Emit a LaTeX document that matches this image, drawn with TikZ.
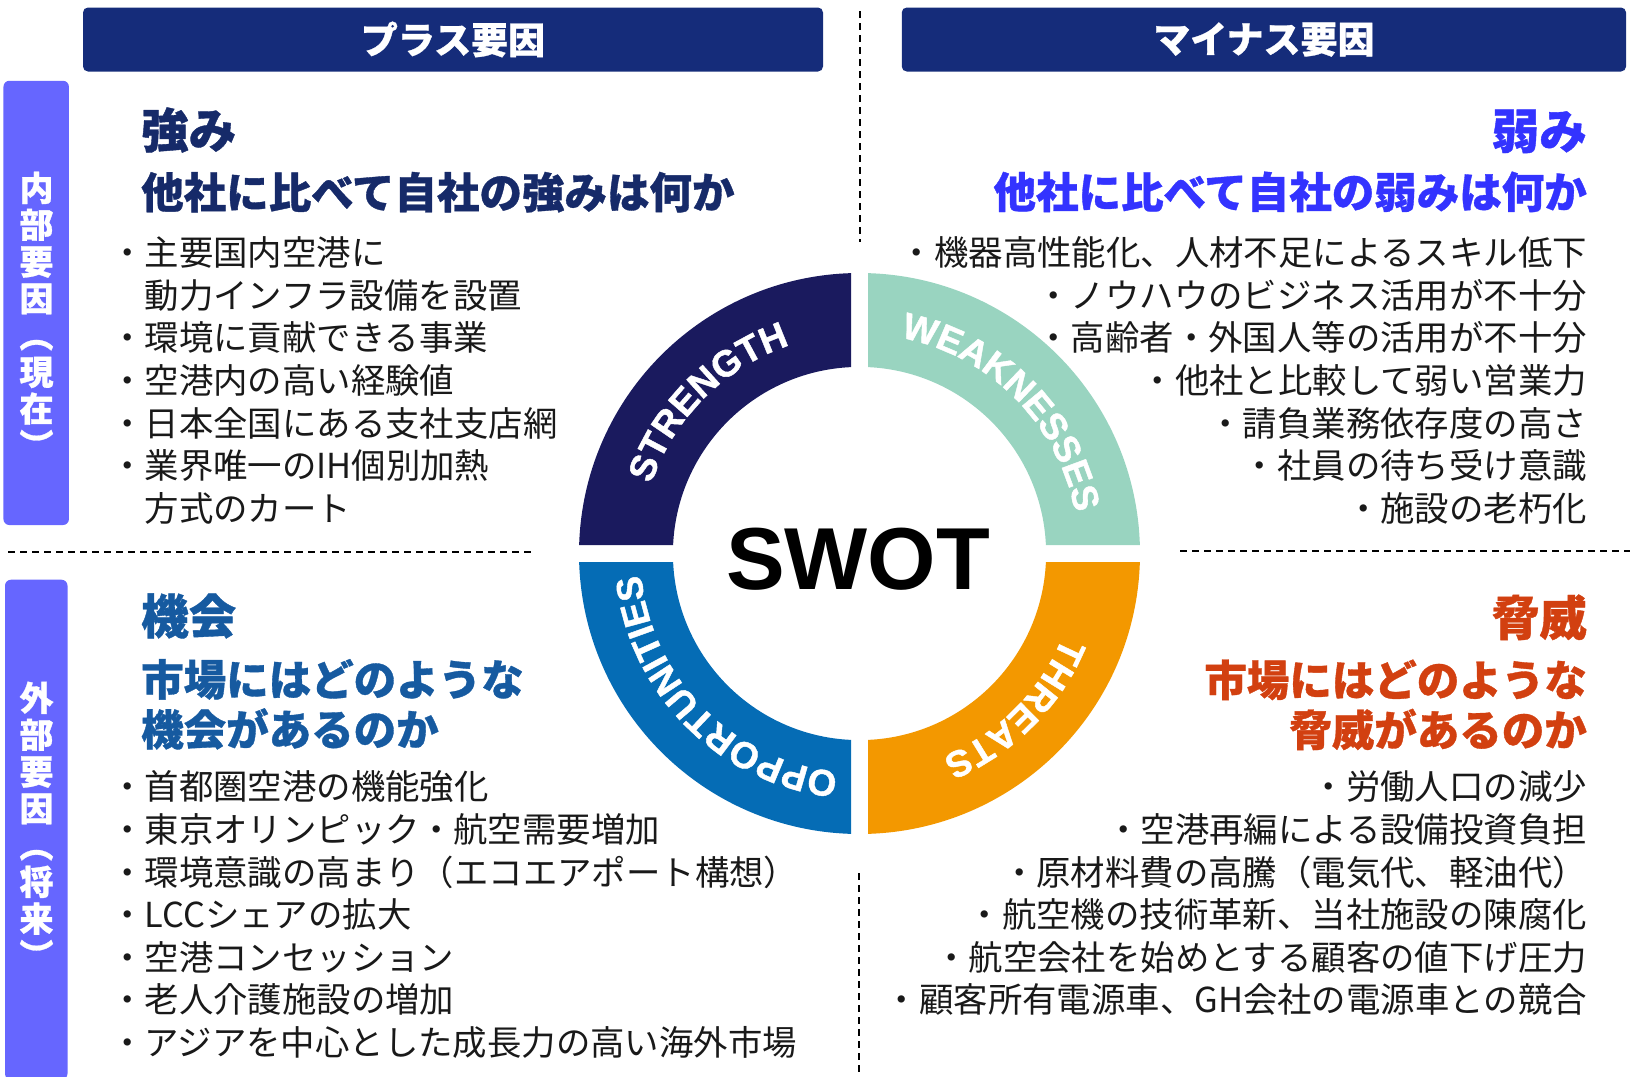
\documentclass[tikz,border=0pt]{standalone}
\usepackage{fontspec}
\newfontfamily\jp{Noto Sans CJK JP}
\newfontfamily\jph{Noto Sans CJK JP}[BoldFeatures={FakeBold=0.8}]
\newfontfamily\lat{Liberation Sans}
\newfontfamily\ringfont{Liberation Sans}[BoldFeatures={FakeBold=1.2}]
\usetikzlibrary{decorations.text,calc}
\definecolor{hdr}{RGB}{21,44,122}
\definecolor{side}{RGB}{102,102,255}
\definecolor{cS}{RGB}{26,26,94}
\definecolor{cW}{RGB}{153,212,192}
\definecolor{cO}{RGB}{5,108,181}
\definecolor{cT}{RGB}{243,152,0}
\definecolor{hS}{RGB}{22,42,105}
\definecolor{hW}{RGB}{51,51,255}
\definecolor{hO}{RGB}{22,90,160}
\definecolor{hT}{RGB}{210,64,16}
\definecolor{bodyc}{RGB}{25,25,25}
\begin{document}
\begin{tikzpicture}[x=1pt,y=1pt,
  hbox/.style={fill=hdr, rounded corners=5pt, inner sep=0, text=white,
    font=\jph\bfseries\fontsize{37}{37}\selectfont},
  sidebar/.style={fill=side, rounded corners=6pt, inner sep=0},
  vtext/.style={text=white, font=\jph\bfseries\fontsize{34}{36.8}\selectfont, align=center, inner sep=0},
  head/.style={font=\jph\bfseries\fontsize{42.5}{42.5}\selectfont, inner sep=0},
  title/.style={font=\jph\bfseries\fontsize{47.5}{47.5}\selectfont, inner sep=0},
  item/.style={font=\jp\fontsize{34.4}{34.4}\selectfont, text=bodyc, inner sep=0},
  sep/.style={dash pattern=on 7pt off 5pt, line width=2pt, black},
  ringlbl/.style={decorate, decoration={text along path, text align=center, text={|\ringfont\bfseries\fontsize{37}{37}\selectfont\color{white}|#1}}}
]
\useasboundingbox (0,0) rectangle (1630,-1076);

% header boxes
\node[hbox, minimum width=740, minimum height=64] (hplus) at (453,-39.5) {プラス要因};
\node[hbox, minimum width=724.3, minimum height=64] (hminus) at (1263.9,-39.5) {マイナス要因};

% side bars
\node[sidebar, minimum width=65.5, minimum height=444.3] (sbtop) at (36.2,-302.9) {};
\node[sidebar, minimum width=62.5, minimum height=500] (sbbot) at (36.25,-829.7) {};
\node[vtext] (vtop) at (36.5,-315) {内\\部\\要\\因\\︵\\現\\在\\︶};
\node[vtext] (vbot) at (36.5,-825) {外\\部\\要\\因\\︵\\将\\来\\︶};

% dashed separators
\coordinate (vA1) at (860,-11);
\coordinate (vA2) at (860,-242);
\coordinate (vB1) at (859,-873);
\coordinate (vB2) at (859,-1076);
\coordinate (hA1) at (8,-551.5);
\coordinate (hA2) at (533,-551.5);
\coordinate (hB1) at (1180,-550.5);
\coordinate (hB2) at (1630,-550.5);
\draw[sep] (vA1) -- (vA2);
\draw[sep] (vB1) -- (vB2);
\draw[sep] (hA1) -- (hA2);
\draw[sep] (hB1) -- (hB2);

% ring
\coordinate (C) at (859.5,-553.5);
\begin{scope}[shift={(C)}]
\fill[cS] (178.2634:280.5) arc[start angle=178.2634, end angle=91.7366, radius=280.5]
  -- (92.611:186.6) arc[start angle=92.611, end angle=177.389, radius=186.6] -- cycle;
\fill[cW] (88.2634:280.5) arc[start angle=88.2634, end angle=1.7366, radius=280.5]
  -- (2.611:186.6) arc[start angle=2.611, end angle=87.389, radius=186.6] -- cycle;
\fill[cO] (181.7366:280.5) arc[start angle=181.7366, end angle=268.2634, radius=280.5]
  -- (267.389:186.6) arc[start angle=267.389, end angle=182.611, radius=186.6] -- cycle;
\fill[cT] (271.7366:280.5) arc[start angle=271.7366, end angle=358.2634, radius=280.5]
  -- (357.389:186.6) arc[start angle=357.389, end angle=272.611, radius=186.6] -- cycle;
\path[ringlbl=STRENGTH] (180:219.5) arc[start angle=180, end angle=90, radius=219.5];
\path[ringlbl=WEAKNESSES] (90:219.5) arc[start angle=90, end angle=0, radius=219.5];
\path[ringlbl=THREATS] (0:219.5) arc[start angle=0, end angle=-90, radius=219.5];
\path[ringlbl=OPPORTUNITIES] (270:219.5) arc[start angle=270, end angle=180, radius=219.5];
\end{scope}
\node[font=\lat\bfseries\fontsize{88}{88}\selectfont, inner sep=0] (swot) at (858,-559.5) {SWOT};

% headings
\node[title, text=hS, anchor=base west] (hs1) at (141,-148) {強み};
\node[head, text=hS, anchor=base west] (hs2) at (141,-208.3) {他社に比べて自社の強みは何か};
\node[title, text=hW, anchor=base east] (hw1) at (1587,-148.7) {弱み};
\node[head, text=hW, anchor=base east] (hw2) at (1587,-208) {他社に比べて自社の弱みは何か};
\node[title, text=hO, anchor=base west] (ho1) at (141,-634) {機会};
\node[head, text=hO, anchor=base west] (ho2) at (141,-695.5) {市場にはどのような};
\node[head, text=hO, anchor=base west] (ho3) at (141,-745.5) {機会があるのか};
\node[title, text=hT, anchor=base east] (ht1) at (1587,-635.5) {脅威};
\node[head, text=hT, anchor=base east] (ht2) at (1587,-696) {市場にはどのような};
\node[head, text=hT, anchor=base east] (ht3) at (1587,-746) {脅威があるのか};

% items
\foreach \t [count=\i from 0] in {・主要国内空港に,　動力インフラ設備を設置,・環境に貢献できる事業,・空港内の高い経験値,・日本全国にある支社支店網,・業界唯一のIH個別加熱,　方式のカート}
  \node[item, anchor=base west] (si\i) at (110,{-265.5-42.65*\i}) {\t};
\foreach \t [count=\i from 0] in {・機器高性能化、人材不足によるスキル低下,・ノウハウのビジネス活用が不十分,・高齢者・外国人等の活用が不十分,・他社と比較して弱い営業力,・請負業務依存度の高さ,・社員の待ち受け意識,・施設の老朽化}
  \node[item, anchor=base east] (wi\i) at (1587,{-265.5-42.65*\i}) {\t};
\foreach \t [count=\i from 0] in {・首都圏空港の機能強化,・東京オリンピック・航空需要増加,・環境意識の高まり（エコエアポート構想）,・LCCシェアの拡大,・空港コンセッション,・老人介護施設の増加,・アジアを中心とした成長力の高い海外市場}
  \node[item, anchor=base west] (oi\i) at (110,{-799.8-42.6*\i}) {\t};
\foreach \t [count=\i from 0] in {・労働人口の減少,・空港再編による設備投資負担,・原材料費の高騰（電気代、軽油代）,・航空機の技術革新、当社施設の陳腐化,・航空会社を始めとする顧客の値下げ圧力,・顧客所有電源車、GH会社の電源車との競合}
  \node[item, anchor=base east] (ti\i) at (1587,{-799.8-42.6*\i}) {\t};
\end{tikzpicture}
\end{document}
